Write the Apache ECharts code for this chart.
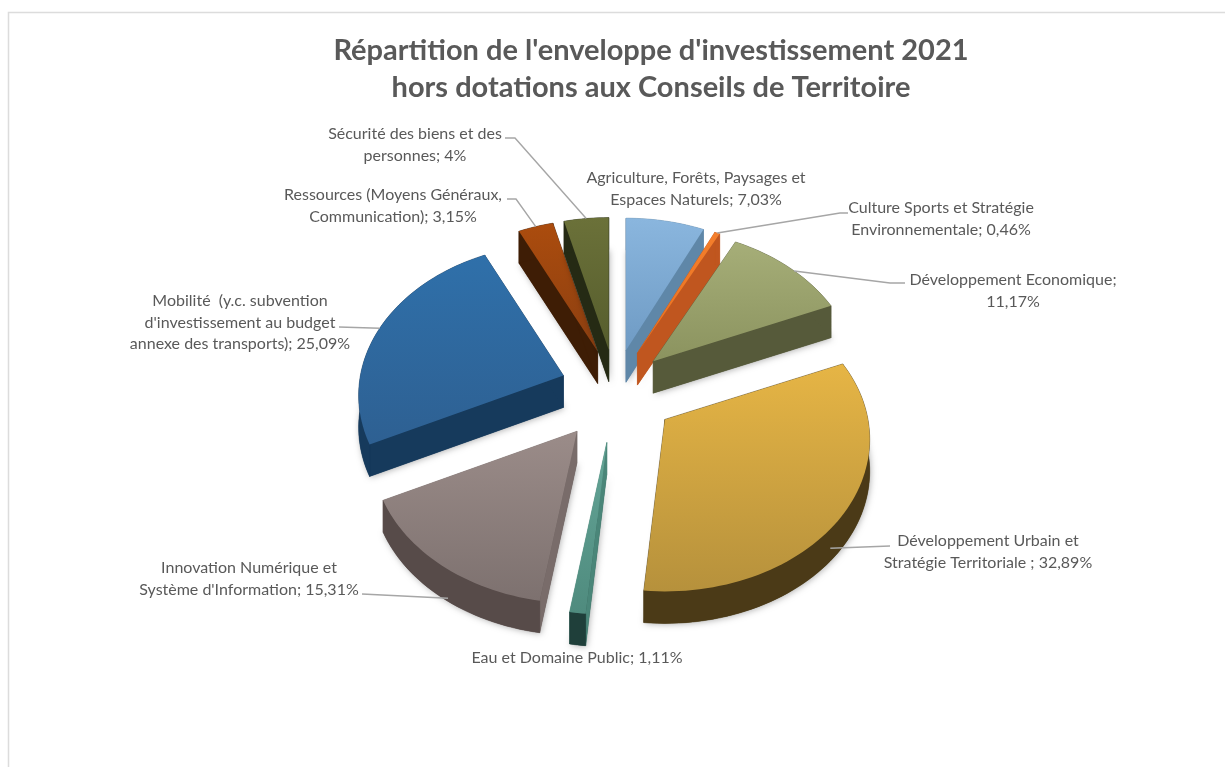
<!DOCTYPE html>
<html><head><meta charset="utf-8">
<style>html,body{margin:0;padding:0;background:#fff}#c{width:1225px;height:767px}</style>
<script src="https://cdn.jsdelivr.net/npm/echarts@6/dist/echarts.min.js"></script>
</head><body><div id="c"></div>
<script>
const titleText = "Répartition de l'enveloppe d'investissement 2021\nhors dotations aux Conseils de Territoire";
const categories = [
  "Agriculture, Forêts, Paysages et\nEspaces Naturels; ",
  "Culture Sports et Stratégie\nEnvironnementale; ",
  "Développement Economique;\n",
  "Développement Urbain et\nStratégie Territoriale ; ",
  "Eau et Domaine Public; ",
  "Innovation Numérique et\nSystème d'Information; ",
  "Mobilité  (y.c. subvention\nd'investissement au budget\nannexe des transports); ",
  "Ressources (Moyens Généraux,\nCommunication); ",
  "Sécurité des biens et des\npersonnes; "
];
const values = [7.03, 0.46, 11.17, 32.89, 1.11, 15.31, 25.09, 3.15, 4];

/* styling of each slice */
const faceTop    = ['#8ab6de','#f47f2c','#a6ae78','#e6b545','#64a597','#9b8c89','#2f70aa','#ab4c0e','#6b7139'];
const faceBottom = ['#6f9bc4','#e8701f','#8b935f','#b6913c','#4f8b7e','#7d716f','#2e6092','#8c3f10','#565d2d'];
const edgeWall   = ['#5f87a8','#c0561f','#565a3a','#4b3a17','#4a8679','#796c6a','#163a5c','#3e1d05','#252a14'];
const arcWall    = ['#5f87a8','#c0561f','#565a3a','#4b3a17','#1f3f3a','#574b49','#163a5c','#3e1d05','#252a14'];

/* label layout: centre x, first-line y */
const labelPos = [[696,178],[941,208],[1013,280],[988,541],[577,658],[249,568],[240,301],[393,195],[415,134]];
/* leader lines: fixed points beside the label, then slice anchor [arc fraction, wall fraction] */
const leaders = [
  null,
  {pts:[[848,213],[840,213]], at:[0.5,0]},
  {pts:[[905,283],[890,283]], at:[0.55,0]},
  {pts:[[890,546]], at:[0.55,0.6]},
  null,
  {pts:[[362,594]], at:[0.46,0.9]},
  {pts:[[339,327]], at:[0.5,0]},
  {pts:[[507,199],[516,199]], at:[0.5,0]},
  {pts:[[505,138],[515,138]], at:[0.5,0]}
];
/* projection of the tilted pie */
const CX=615, CY=390, RX=203, RY=149.4, K=0.1316, EX=57, EY=46, DEPTH=32;

const total = values.reduce((a,b)=>a+b,0);
const cum = []; values.reduce((a,v,i)=>(cum[i]=a, a+v),0);
const fmt = v => String(v).replace('.',',')+'%';
function proj(rx,ry,t){const s=Math.sin(t),c=Math.cos(t),w=1+K*c;return [rx*s/w,-ry*c/w];}

function renderItem(params, api){
  const i = params.dataIndex, v = api.value(0);
  const a0 = cum[i]/total*2*Math.PI, a1 = a0 + v/total*2*Math.PI, mid=(a0+a1)/2;
  const off = proj(EX,EY,mid);
  const ax = CX+off[0], ay = CY+off[1];
  const P = t => { const p=proj(RX,RY,t); return [ax+p[0], ay+p[1]]; };
  const arc = []; const n=Math.max(4,Math.ceil((a1-a0)/0.03));
  for(let k=0;k<=n;k++) arc.push(P(a0+(a1-a0)*k/n));
  const down = (p,d=DEPTH)=>[p[0],p[1]+d];
  const apex=[ax,ay];
  const kids=[];
  /* soft shadow under the extruded base */
  kids.push({type:'polygon',shape:{points:[down(apex)].concat(arc.map(p=>down(p)))},
    style:{fill:arcWall[i],shadowBlur:6,shadowColor:'rgba(0,0,0,0.3)',shadowOffsetX:1,shadowOffsetY:1}});
  const quad=(pts,fill)=>kids.push({type:'polygon',shape:{points:pts},style:{fill:fill,stroke:fill,lineWidth:0.5}});
  quad([apex,arc[0],down(arc[0]),down(apex)],edgeWall[i]);
  quad([apex,arc[n],down(arc[n]),down(apex)],edgeWall[i]);
  quad(arc.concat(arc.slice().reverse().map(p=>down(p))),arcWall[i]);
  kids.push({type:'polygon',shape:{points:[apex].concat(arc)},style:{
    fill:{type:'linear',x:0,y:0,x2:0,y2:1,colorStops:[{offset:0,color:faceTop[i]},{offset:1,color:faceBottom[i]}]}}});
  const ld=leaders[i];
  if(ld){
    const q=P(a0+(a1-a0)*ld.at[0]);
    kids.push({type:'polyline',shape:{points:ld.pts.concat([down(q,DEPTH*ld.at[1])])},style:{fill:null,stroke:'#a6a6a6',lineWidth:1.4}});
  }
  kids.push({type:'text',style:{x:labelPos[i][0],y:labelPos[i][1]-10.5,text:categories[i]+fmt(v),
    font:'16px Lato, "Open Sans", sans-serif',fill:'#595959',align:'center',verticalAlign:'top',lineHeight:21.5}});
  return {type:'group',children:kids};
}

const chart = echarts.init(document.getElementById('c'),null,{renderer:'canvas'});
chart.setOption({
  animation:false,
  backgroundColor:'#fff',
  title:{text:titleText,left:646,top:27,textAlign:'center',
    textStyle:{color:'#595959',fontFamily:'Lato, "Open Sans", sans-serif',fontWeight:'bold',fontSize:29,lineHeight:37}},
  graphic:[{type:'rect',silent:true,shape:{x:8.5,y:12.5,width:1400,height:1000},style:{fill:null,stroke:'#dcdcdc',lineWidth:1.5}}],
  series:[{type:'custom',coordinateSystem:'none',silent:true,renderItem:renderItem,
    data:values.map((v,i)=>({name:categories[i],value:[v]}))}]
});
</script></body></html>
